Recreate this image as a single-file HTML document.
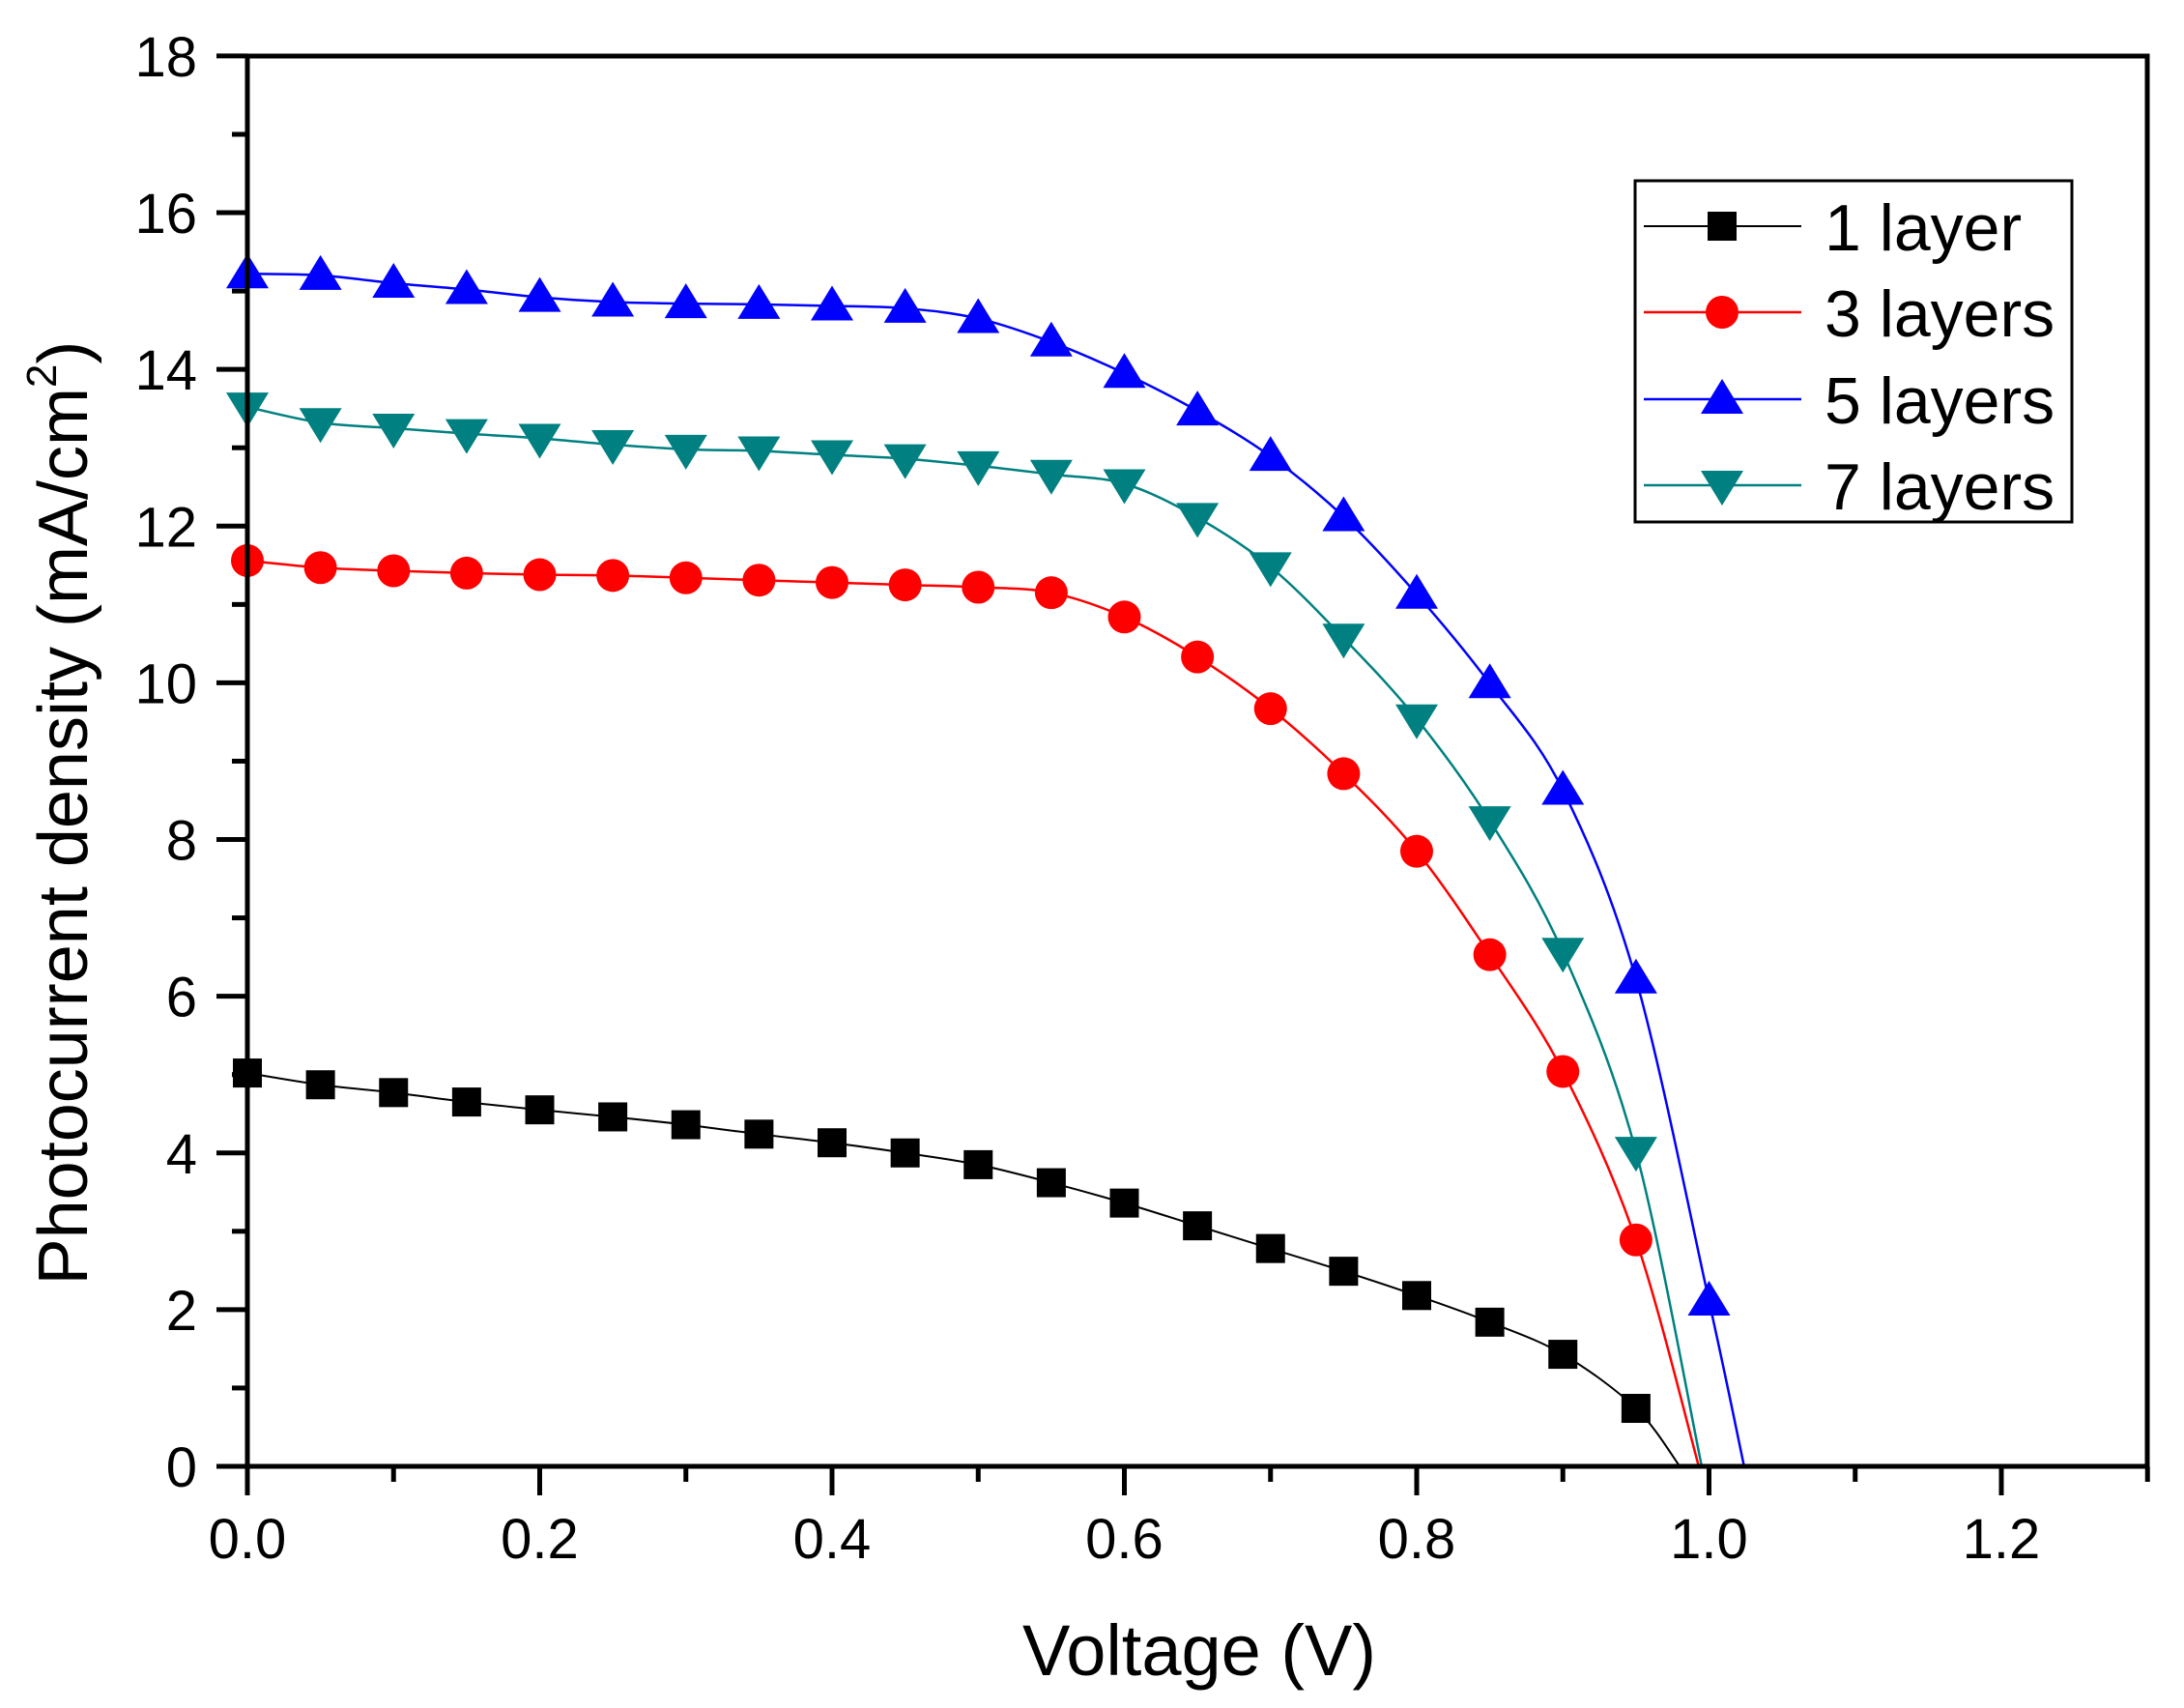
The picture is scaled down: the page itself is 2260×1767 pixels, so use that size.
<!DOCTYPE html>
<html><head><meta charset="utf-8"><style>
html,body{margin:0;padding:0;background:#fff;}
svg{display:block;font-family:"Liberation Sans",Arial,sans-serif;}
</style></head><body>
<svg id="s" width="2260" height="1767" viewBox="0 0 2260 1767" xmlns="http://www.w3.org/2000/svg">
<rect width="2260" height="1767" fill="#fff"/>
<g id="plot"></g>
<rect x="256" y="58" width="1966" height="1459" fill="none" stroke="#000" stroke-width="5"/>
<g id="ticks" stroke="#000" stroke-width="5"></g>
<g id="labels" font-size="58" fill="#000"></g>
<text x="1241" y="1733" font-size="74" text-anchor="middle">Voltage (V)</text>
<text transform="translate(90,841) rotate(-90)" font-size="72" text-anchor="middle">Photocurrent density (mA/cm<tspan font-size="44" dy="-32">2</tspan><tspan dy="32">)</tspan></text>
<rect x="1692" y="187" width="452" height="353" fill="#fff" stroke="#000" stroke-width="3"/>
<g id="legend" font-size="68"></g>
</svg>
<script>
const NS="http://www.w3.org/2000/svg";
const X=v=>256+v*1512.5, Y=v=>1517-v*81.06;
function el(p,t,a,txt){const e=document.createElementNS(NS,t);for(const k in a)e.setAttribute(k,a[k]);if(txt!=null)e.textContent=txt;document.getElementById(p).appendChild(e);return e;}
for(let i=0;i<=13;i++){const x=X(i*0.1);const major=i%2==0;el('ticks','line',{x1:x,y1:1517,x2:x,y2:major?1547:1533});
 if(major&&i<13)el('labels','text',{x:x,y:1612,'text-anchor':'middle'},(i*0.1).toFixed(1));}
for(let i=0;i<=18;i++){const y=Y(i);const major=i%2==0;el('ticks','line',{x1:256,y1:y,x2:major?224:240,y2:y});
 if(major)el('labels','text',{x:204,y:y+21,'text-anchor':'end'},String(i));}
const series=[
{c:'#000',m:'sq',d:[5.02,4.87,4.77,4.65,4.55,4.46,4.36,4.24,4.13,4.0,3.85,3.62,3.36,3.07,2.78,2.49,2.18,1.84,1.43,0.74],end:[0.98,0],w:2},
{c:'#ff0000',m:'ci',d:[11.56,11.47,11.43,11.40,11.38,11.37,11.34,11.31,11.28,11.25,11.22,11.15,10.84,10.33,9.67,8.84,7.85,6.53,5.04,2.89],end:[0.993,0],w:2.5},
{c:'#0000ff',m:'up',d:[15.22,15.20,15.10,15.02,14.92,14.86,14.84,14.83,14.81,14.78,14.65,14.35,13.95,13.47,12.89,12.12,11.13,9.99,8.63,6.22,2.11],end:[1.024,0],w:2.5},
{c:'#008080',m:'dn',d:[13.52,13.32,13.25,13.18,13.12,13.04,12.98,12.96,12.91,12.86,12.77,12.66,12.54,12.11,11.48,10.57,9.54,8.24,6.56,4.02],end:[0.995,0],w:2.5}];
function marker(g,m,x,y,c){
 if(m=='sq')el(g,'rect',{x:x-15,y:y-15,width:30,height:30,fill:c});
 else if(m=='ci')el(g,'circle',{cx:x,cy:y,r:17,fill:c});
 else if(m=='up')el(g,'polygon',{points:`${x},${y-21} ${x-22},${y+15} ${x+22},${y+15}`,fill:c});
 else el(g,'polygon',{points:`${x},${y+21} ${x-22},${y-15} ${x+22},${y-15}`,fill:c});}
function spline(p){let d=`M${p[0][0]},${p[0][1]}`;for(let i=0;i<p.length-1;i++){const p0=p[Math.max(0,i-1)],p1=p[i],p2=p[i+1],p3=p[Math.min(p.length-1,i+2)];
 const c1=[p1[0]+(p2[0]-p0[0])/6,p1[1]+(p2[1]-p0[1])/6],c2=[p2[0]-(p3[0]-p1[0])/6,p2[1]-(p3[1]-p1[1])/6];
 d+=` C${c1[0]},${c1[1]} ${c2[0]},${c2[1]} ${p2[0]},${p2[1]}`;}return d;}
const labs=['1 layer','3 layers','5 layers','7 layers'];
series.forEach(s=>{let pts=s.d.map((v,i)=>[X(i*0.05),Y(v)]);pts.push([X(s.end[0]),Y(s.end[1])]);
 el('plot','path',{d:spline(pts),fill:'none',stroke:s.c,'stroke-width':s.w});});
series.forEach(s=>{s.d.forEach((v,i)=>marker('plot',s.m,X(i*0.05),Y(v),s.c));});
const ly=[234,323,413,502];
series.forEach((s,k)=>{const y=ly[k];
 el('legend','line',{x1:1701,y1:y,x2:1864,y2:y,stroke:s.c,'stroke-width':s.w});
 marker('legend',s.m,1782,y,s.c);
 el('legend','text',{x:1888,y:y+25},labs[k]);});
</script>
</body></html>
